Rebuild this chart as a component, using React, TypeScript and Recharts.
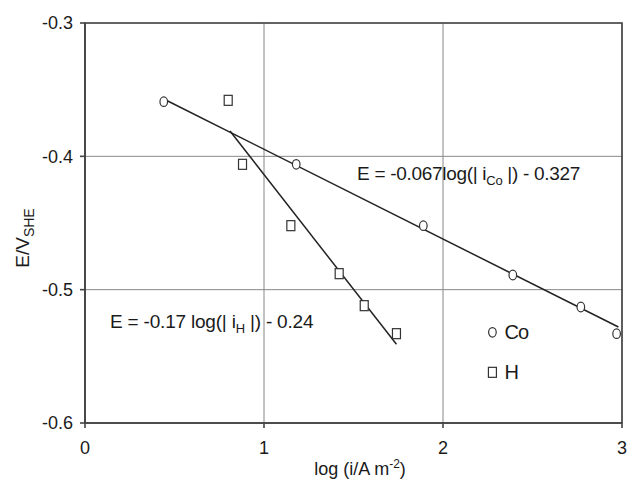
import { ComposedChart, Scatter, XAxis, YAxis, CartesianGrid, ReferenceArea, ReferenceDot } from 'recharts';

// measured points, log(i/A m^-2) vs E/V_SHE
const coX = [0.44, 1.18, 1.89, 2.39, 2.77, 2.97];
const coY = [-0.359, -0.406, -0.452, -0.489, -0.513, -0.533];
const hX = [0.80, 0.88, 1.15, 1.42, 1.56, 1.74];
const hY = [-0.358, -0.406, -0.452, -0.488, -0.512, -0.533];

// fitted Tafel lines (end points)
const coFitX = [0.44, 2.98];
const coFitY = [-0.357, -0.528];
const hFitX = [0.81, 1.74];
const hFitY = [-0.381, -0.541];

const xTicks = [0, 1, 2, 3];
const yTicks = [-0.6, -0.5, -0.4, -0.3];
const seriesNames = ['Co', 'H'];

const toPts = (xs: number[], ys: number[]) => xs.map((x, i) => ({ x, y: ys[i] }));

const coData = toPts(coX, coY);
const hData = toPts(hX, hY);
const coFit = toPts(coFitX, coFitY);
const hFit = toPts(hFitX, hFitY);

const FONT = '"Liberation Sans", Arial, sans-serif';
const INK = '#1a1a1a';

const Circle = (props: any) => (
  <ellipse cx={props.cx} cy={props.cy} rx={3.8} ry={4.8} fill="#fff" stroke="#333" strokeWidth={1.2} />
);
const Square = (props: any) => (
  <rect x={props.cx - 4} y={props.cy - 5} width={8} height={10} fill="#fff" stroke="#333" strokeWidth={1.2} />
);
const Nothing = () => <g />;

const CoEquation = (props: any) => (
  <text x={props.cx} y={props.cy} fontFamily={FONT} fontSize={19} fill={INK} letterSpacing={-0.3}>
    E = -0.067log(| i<tspan fontSize={13} dy={5}>Co</tspan><tspan dy={-5}> |) - 0.327</tspan>
  </text>
);
const HEquation = (props: any) => (
  <text x={props.cx} y={props.cy} fontFamily={FONT} fontSize={19} fill={INK} letterSpacing={-0.2}>
    E = -0.17 log(| i<tspan fontSize={13} dy={5}>H</tspan><tspan dy={-5}> |) - 0.24</tspan>
  </text>
);

// legend drawn at a spot inside the plot, like the original
const LegendBox = (props: any) => (
  <g transform={`translate(${props.cx}, ${props.cy})`}>
    <ellipse cx={7} cy={14} rx={3.8} ry={4.8} fill="#fff" stroke="#333" strokeWidth={1.2} />
    <text x={19} y={21} fontFamily={FONT} fontSize={20} fill={INK} letterSpacing={-0.8}>{seriesNames[0]}</text>
    <rect x={3} y={49} width={8} height={10} fill="#fff" stroke="#333" strokeWidth={1.2} />
    <text x={19} y={61} fontFamily={FONT} fontSize={20} fill={INK}>{seriesNames[1]}</text>
  </g>
);

const YLabel = () => (
  <text transform="translate(21, 230) rotate(-90)" textAnchor="middle" fontFamily={FONT} fontSize={19} fill={INK}>
    E/V<tspan fontSize={14} dy={5}>SHE</tspan>
  </text>
);
const XLabel = () => (
  <text x={352} y={467} textAnchor="middle" fontFamily={FONT} fontSize={18} fill={INK}>
    log (i/A m<tspan fontSize={12} dy={-7}>-2</tspan><tspan dy={7}>)</tspan>
  </text>
);

export default function App() {
  return (
    <div style={{ width: 629, height: 474, background: '#fff' }}>
      <ComposedChart width={629} height={474} margin={{ top: 15, right: 15, bottom: 0, left: 0 }}>
        <CartesianGrid stroke="#888" strokeWidth={1} />
        <XAxis
          type="number"
          dataKey="x"
          domain={[0, 3]}
          ticks={xTicks}
          height={59}
          tickSize={5}
          tickMargin={13}
          stroke="#444"
          strokeWidth={1.6}
          tick={{ fill: INK, fontSize: 18, fontFamily: FONT }}
          label={<XLabel />}
        />
        <YAxis
          type="number"
          dataKey="y"
          domain={[-0.6, -0.3]}
          ticks={yTicks}
          width={77}
          tickSize={5}
          tickMargin={7}
          stroke="#444"
          strokeWidth={1.6}
          tickFormatter={(v: number) => v.toFixed(1)}
          tick={{ fill: INK, fontSize: 18, fontFamily: FONT }}
          label={<YLabel />}
        />
        <ReferenceArea x1={0} x2={3} y1={-0.6} y2={-0.3} fill="none" stroke="#444" strokeWidth={1.6} />
        <Scatter data={coFit} dataKey="y" line={{ stroke: '#222', strokeWidth: 1.5 }} shape={Nothing} legendType="none" isAnimationActive={false} />
        <Scatter data={hFit} dataKey="y" line={{ stroke: '#222', strokeWidth: 1.5 }} shape={Nothing} legendType="none" isAnimationActive={false} />
        <Scatter name={seriesNames[0]} data={coData} dataKey="y" shape={Circle} isAnimationActive={false} />
        <Scatter name={seriesNames[1]} data={hData} dataKey="y" shape={Square} isAnimationActive={false} />
        <ReferenceDot x={1.52} y={-0.418} r={0} shape={CoEquation} />
        <ReferenceDot x={0.14} y={-0.529} r={0} shape={HEquation} />
        <ReferenceDot x={2.237} y={-0.5215} r={0} shape={LegendBox} />
      </ComposedChart>
    </div>
  );
}
